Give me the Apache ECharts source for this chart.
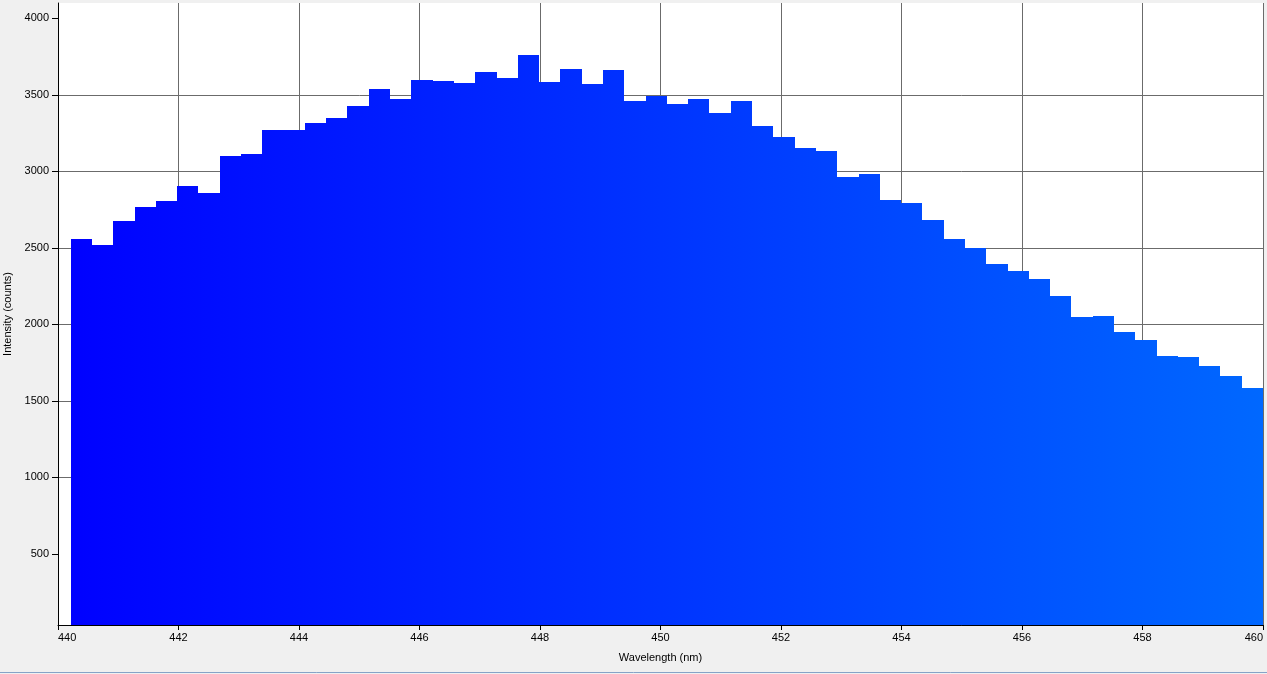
<!DOCTYPE html>
<html>
<head>
<meta charset="utf-8">
<script src="https://cdn.jsdelivr.net/npm/echarts@6/dist/echarts.min.js"></script>
<style>
html,body{margin:0;padding:0;background:#f0f0f0;}
#chart{width:1267px;height:674px;}
</style>
</head>
<body>
<div id="chart"></div>
<script>
// Bin centres (nm)
const wavelengths = [
  440.387, 440.740, 441.094, 441.447, 441.801, 442.154, 442.507, 442.861,
  443.214, 443.568, 443.921, 444.275, 444.628, 444.981, 445.335, 445.688,
  446.042, 446.395, 446.748, 447.102, 447.455, 447.809, 448.162, 448.515,
  448.869, 449.222, 449.576, 449.929, 450.283, 450.636, 450.989, 451.343,
  451.696, 452.050, 452.403, 452.756, 453.110, 453.463, 453.817, 454.170,
  454.524, 454.877, 455.230, 455.584, 455.937, 456.291, 456.644, 456.997,
  457.351, 457.704, 458.058, 458.411, 458.765, 459.118, 459.471, 459.825
];
// Intensity (counts)
const intensities = [
  2556, 2517, 2674, 2765, 2804, 2903, 2857, 3099,
  3112, 3269, 3269, 3314, 3347, 3426, 3537, 3472,
  3597, 3590, 3577, 3649, 3609, 3760, 3583, 3668,
  3570, 3662, 3459, 3492, 3440, 3472, 3380, 3459,
  3295, 3223, 3151, 3131, 2961, 2981, 2811, 2791,
  2680, 2556, 2499, 2392, 2347, 2294, 2183, 2046,
  2052, 1947, 1895, 1790, 1784, 1725, 1660, 1581
];
const yTickValues = [500, 1000, 1500, 2000, 2500, 3000, 3500, 4000];
const xTitle = 'Wavelength (nm)';
const yTitle = 'Intensity (counts)';

const binWidth = 0.3534;
const X_MIN = 440, X_MAX = 460, Y_MIN = 35, Y_MAX = 4100;

const chart = echarts.init(document.getElementById('chart'), null, {renderer: 'canvas'});
const FONT = 'Liberation Sans';

const data = wavelengths.map((w, i) => [w, intensities[i]]);

function leftEdge(i) {
  return i === 0 ? wavelengths[0] - binWidth / 2 : (wavelengths[i - 1] + wavelengths[i]) / 2;
}
function rightEdge(i) {
  return i === wavelengths.length - 1 ? wavelengths[i] + binWidth / 2 : (wavelengths[i] + wavelengths[i + 1]) / 2;
}

chart.setOption({
  backgroundColor: '#f0f0f0',
  animation: false,
  textStyle: {fontFamily: FONT},
  grid: {left: 58, right: 4, top: 3, bottom: 49, show: true, backgroundColor: '#ffffff',
    borderWidth: 0, containLabel: false, outerBoundsMode: 'none'},
  graphic: [{
    type: 'line', silent: true,
    shape: {x1: 0, y1: 672.5, x2: 1267, y2: 672.5},
    style: {stroke: '#86a3c7', lineWidth: 1}
  }],
  xAxis: {
    type: 'value', min: X_MIN, max: X_MAX, interval: 2,
    name: xTitle, nameLocation: 'middle', nameGap: 27,
    nameTextStyle: {color: '#000', fontSize: 11, fontFamily: FONT},
    axisLine: {show: true, onZero: false, lineStyle: {color: '#000', width: 1}},
    axisTick: {show: true, length: 5, lineStyle: {color: '#000'}},
    axisLabel: {color: '#000', fontSize: 11, fontFamily: FONT, margin: 7,
      alignMinLabel: 'left', alignMaxLabel: 'right'},
    splitLine: {show: true, lineStyle: {color: '#6b6b6b', width: 1}}
  },
  yAxis: {
    type: 'value', min: Y_MIN, max: Y_MAX, splitNumber: 8,
    name: yTitle, nameLocation: 'middle', nameGap: 41, nameRotate: 90,
    nameTextStyle: {color: '#000', fontSize: 11, fontFamily: FONT},
    axisLine: {show: true, lineStyle: {color: '#000', width: 1}},
    axisTick: {show: true, length: 6, lineStyle: {color: '#000'}, customValues: yTickValues},
    axisLabel: {color: '#000', fontSize: 11, fontFamily: FONT, margin: 9,
      customValues: yTickValues, formatter: function (v) { return String(v); }},
    splitLine: {show: true, showMinLine: false, showMaxLine: false,
      lineStyle: {color: '#6b6b6b', width: 1}}
  },
  series: [{
    type: 'custom',
    data: data,
    clip: true,
    encode: {x: 0, y: 1},
    renderItem: function (params, api) {
      const i = params.dataIndex;
      const v = api.value(1);
      const x0 = Math.round(api.coord([leftEdge(i), v])[0]);
      const x1 = Math.round(api.coord([rightEdge(i), v])[0]);
      const yTop = Math.round(api.coord([wavelengths[i], v])[1]);
      const yBot = api.coord([wavelengths[i], Y_MIN])[1];
      const gx0 = api.coord([X_MIN, Y_MIN])[0];
      const gx1 = api.coord([X_MAX, Y_MIN])[0];
      return {
        type: 'rect',
        shape: {x: x0, y: yTop, width: x1 - x0, height: yBot - yTop},
        style: {
          fill: new echarts.graphic.LinearGradient(gx0, 0, gx1, 0, [
            {offset: 0, color: 'rgb(0,0,255)'},
            {offset: 1, color: 'rgb(0,104,255)'}
          ], true)
        }
      };
    }
  }]
});
</script>
</body>
</html>
